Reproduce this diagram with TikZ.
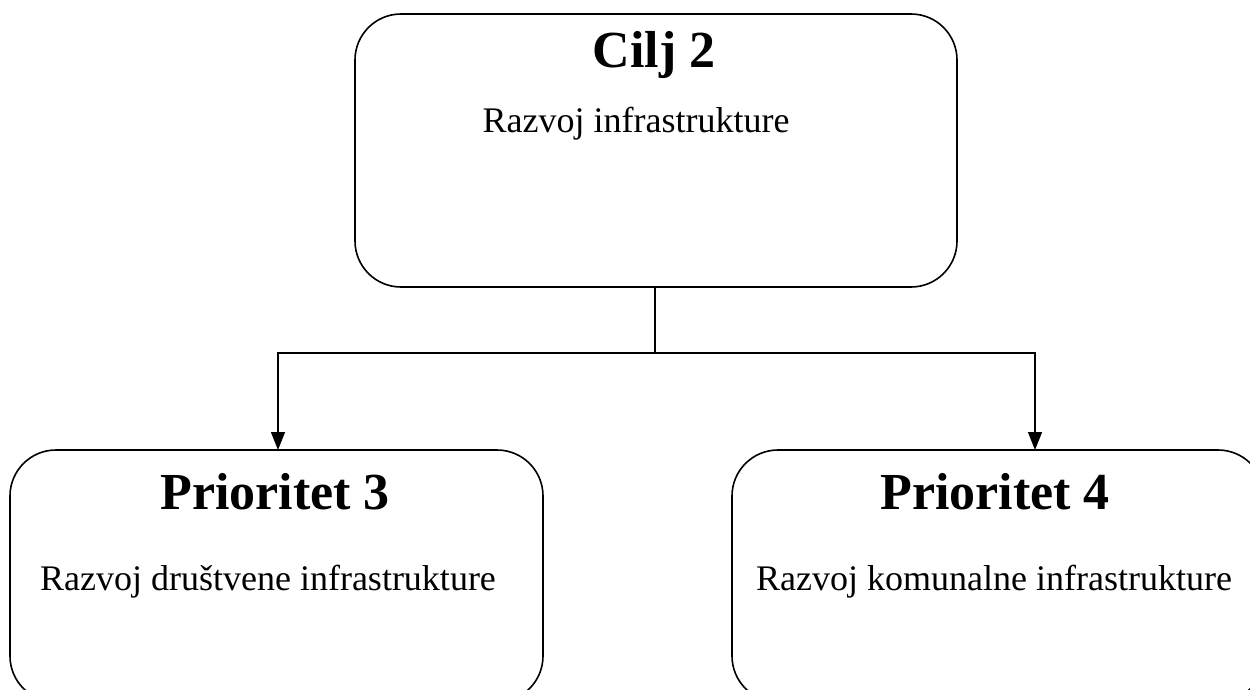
\documentclass[tikz,border=0pt]{standalone}
\usepackage{fontspec}
\setmainfont{Liberation Serif}
\usetikzlibrary{arrows.meta}
\begin{document}
\begin{tikzpicture}[x=1pt,y=-1pt,
  box/.style={draw,line width=1.6pt,rounded corners=46pt,inner sep=0pt},
  ttl/.style={font=\fontsize{52}{56}\selectfont\bfseries,inner sep=0pt,anchor=base},
  sub/.style={font=\fontsize{36}{40}\selectfont,inner sep=0pt,anchor=base},
  conn/.style={line width=1.4pt},
  arr/.style={line width=1.4pt,-{Triangle[length=18pt,width=14pt]}}]
\useasboundingbox (0,0) rectangle (1250,690);
% boxes
\draw[box] (355,14) rectangle (957,287);
\coordinate (c2s) at (655,287);
\draw[box] (10,450) rectangle (543,702);
\coordinate (p3n) at (278,450);
\draw[box] (732,450) rectangle (1264,702);
\coordinate (p4n) at (1035,450);
% texts
\node[ttl] (t1) at (654,68) {Cilj 2};
\node[sub] (s1) at (636,132) {Razvoj infrastrukture};
\node[ttl] (t3) at (275,509) {Prioritet 3};
\node[sub] (s3) at (268,590) {Razvoj društvene infrastrukture};
\node[ttl] (t4) at (995,509) {Prioritet 4};
\node[sub] (s4) at (994,590) {Razvoj komunalne infrastrukture};
% connectors
\coordinate (j) at (655,353);
\coordinate (jl) at (278,353);
\coordinate (jr) at (1035,353);
\draw[conn] (c2s) -- (j);
\draw[arr] (j) -- (jl) -- (p3n);
\draw[arr] (j) -- (jr) -- (p4n);
\end{tikzpicture}
\end{document}
